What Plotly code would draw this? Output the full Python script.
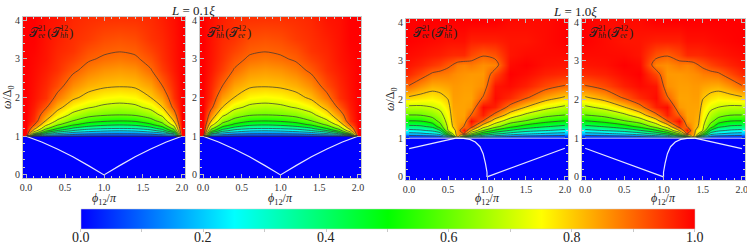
import plotly.graph_objects as go

# ------------------------------------------------------------------ data
# L = 0.1 xi : transmission grid (rows = omega, cols = phi)
phi_short = [0, 0.1, 0.25, 0.4, 0.6, 0.8, 1.0, 1.2, 1.4, 1.6, 1.75, 1.9, 2.0]
omega_short = [0, 0.999, 1.0, 1.04, 1.08, 1.14, 1.2, 1.3, 1.4, 1.55, 1.75, 2.0, 2.3,
               2.7, 3.0, 3.2, 3.5, 4.0]
T_ee21_short = [
    [0, 0, 0, 0, 0, 0, 0, 0, 0, 0, 0, 0, 0],
    [0, 0, 0, 0, 0, 0, 0, 0, 0, 0, 0, 0, 0],
    [1, 0, 0, 0, 0, 0, 0, 0, 0, 0, 0, 0, 1],
    [1, 0.418, 0.181, 0.125, 0.093, 0.077, 0.069, 0.067, 0.069, 0.083, 0.108, 0.191, 1],
    [1, 0.623, 0.356, 0.233, 0.164, 0.140, 0.129, 0.125, 0.129, 0.150, 0.191, 0.374, 1],
    [1, 0.759, 0.530, 0.389, 0.290, 0.235, 0.210, 0.200, 0.210, 0.258, 0.337, 0.548, 1],
    [1, 0.832, 0.627, 0.506, 0.387, 0.333, 0.309, 0.300, 0.309, 0.356, 0.443, 0.642, 1],
    [1, 0.909, 0.726, 0.618, 0.517, 0.455, 0.423, 0.410, 0.423, 0.485, 0.569, 0.740, 1],
    [1, 0.951, 0.800, 0.689, 0.602, 0.544, 0.517, 0.506, 0.517, 0.569, 0.642, 0.809, 1],
    [1, 0.962, 0.852, 0.764, 0.676, 0.629, 0.608, 0.600, 0.608, 0.649, 0.720, 0.864, 1],
    [1, 0.973, 0.911, 0.827, 0.750, 0.708, 0.682, 0.671, 0.682, 0.725, 0.800, 0.920, 1],
    [1, 0.982, 0.951, 0.882, 0.815, 0.776, 0.750, 0.740, 0.750, 0.800, 0.846, 0.953, 1],
    [1, 0.986, 0.961, 0.926, 0.861, 0.827, 0.811, 0.805, 0.811, 0.841, 0.900, 0.963, 1],
    [1, 0.990, 0.973, 0.954, 0.912, 0.877, 0.857, 0.849, 0.857, 0.896, 0.940, 0.977, 1],
    [1, 0.993, 0.980, 0.960, 0.937, 0.908, 0.892, 0.883, 0.892, 0.920, 0.953, 0.981, 1],
    [1, 0.996, 0.981, 0.964, 0.950, 0.922, 0.908, 0.902, 0.908, 0.935, 0.957, 0.982, 1],
    [1, 0.999, 0.983, 0.970, 0.955, 0.943, 0.926, 0.920, 0.926, 0.951, 0.962, 0.983, 1],
    [1, 1.000, 0.985, 0.980, 0.962, 0.955, 0.951, 0.950, 0.951, 0.958, 0.970, 0.986, 1],
]
# T_hh^21 is the mirror image in phi
T_hh21_short = [row[::-1] for row in T_ee21_short]

# L = 1.0 xi
phi_long = [0, 0.15, 0.3, 0.4, 0.5, 0.56, 0.62, 0.7, 0.8, 0.95, 1.1, 1.3, 1.5, 1.75, 2.0]
omega_long = [0, 0.999, 1.0, 1.03, 1.07, 1.12, 1.2, 1.3, 1.45, 1.6, 1.8, 2.05, 2.35,
              2.65, 2.9, 3.15, 3.5, 4.0]
T_ee21_long = [
    [0, 0, 0, 0, 0, 0, 0, 0, 0, 0, 0, 0, 0, 0, 0],
    [0, 0, 0, 0, 0, 0, 0, 0, 0, 0, 0, 0, 0, 0, 0],
    [0, 0, 0, 0, 0, 0, 0, 0, 0, 0, 0, 0, 0, 0, 0],
    [0.043, 0.046, 0.055, 0.067, 0.15, 0.30, 0.85, 0.42, 0.223, 0.13, 0.094, 0.07, 0.057, 0.048, 0.043],
    [0.100, 0.108, 0.127, 0.156, 0.35, 0.60, 0.85, 0.695, 0.437, 0.289, 0.214, 0.161, 0.133, 0.112, 0.100],
    [0.171, 0.185, 0.214, 0.260, 0.533, 0.71, 0.845, 0.905, 0.617, 0.428, 0.336, 0.267, 0.224, 0.192, 0.171],
    [0.275, 0.288, 0.320, 0.400, 0.704, 0.75, 0.84, 0.98, 0.80, 0.605, 0.487, 0.394, 0.337, 0.305, 0.275],
    [0.373, 0.382, 0.420, 0.557, 0.716, 0.80, 0.84, 0.90, 0.93, 0.738, 0.633, 0.524, 0.457, 0.405, 0.373],
    [0.500, 0.507, 0.558, 0.632, 0.734, 0.82, 0.84, 0.85, 0.99, 0.90, 0.758, 0.652, 0.598, 0.536, 0.500],
    [0.600, 0.604, 0.633, 0.673, 0.752, 0.83, 0.84, 0.84, 0.905, 0.97, 0.88, 0.757, 0.682, 0.630, 0.600],
    [0.683, 0.684, 0.700, 0.722, 0.776, 0.84, 0.84, 0.84, 0.85, 0.99, 0.97, 0.877, 0.797, 0.724, 0.683],
    [0.791, 0.775, 0.763, 0.778, 0.806, 0.845, 0.845, 0.84, 0.84, 0.905, 0.99, 0.96, 0.91, 0.837, 0.791],
    [0.897, 0.858, 0.830, 0.833, 0.841, 0.85, 0.85, 0.845, 0.845, 0.86, 0.98, 0.99, 0.97, 0.93, 0.897],
    [0.960, 0.928, 0.890, 0.882, 0.876, 0.865, 0.86, 0.855, 0.85, 0.85, 0.93, 1.0, 0.99, 0.97, 0.960],
    [0.980, 0.966, 0.948, 0.935, 0.912, 0.90, 0.88, 0.87, 0.88, 0.86, 0.87, 0.99, 1.0, 0.985, 0.980],
    [0.990, 0.984, 0.976, 0.972, 0.964, 0.96, 0.96, 0.96, 0.93, 0.905, 0.92, 0.98, 0.99, 0.99, 0.990],
    [1.000, 0.996, 0.992, 0.989, 0.985, 0.985, 0.985, 0.985, 0.97, 0.97, 0.97, 0.98, 0.98, 0.99, 1.000],
    [1.000, 1.000, 1.000, 1.000, 1.000, 1.000, 1.000, 1.000, 1.00, 1.00, 1.00, 0.99, 0.99, 0.99, 1.000],
]
phi_long_mirror = [round(2 - p, 3) for p in phi_long[::-1]]
T_hh21_long = [row[::-1] for row in T_ee21_long]

# white bound-state curves (sub-gap)
abs_short_phi = [0, 0.2, 0.4, 0.6, 0.8, 1.0, 1.2, 1.4, 1.6, 1.8, 2.0]
abs_short_omega = [1.0, 0.85, 0.67, 0.47, 0.24, 0.0, 0.24, 0.47, 0.67, 0.85, 1.0]
abs_long_a_phi = [0, 0.6]
abs_long_a_omega = [0.73, 1.0]
abs_long_b_phi = [1.0, 2.0]
abs_long_b_omega = [0.0, 0.74]
abs_long_c_phi = [0.6, 0.7, 0.78, 0.85, 0.91, 0.95, 0.98, 1.0, 1.0]
abs_long_c_omega = [1.0, 0.995, 0.97, 0.9, 0.78, 0.6, 0.35, 0.12, 0.0]

x_ticks = [0, 0.5, 1.0, 1.5, 2.0]
y_ticks = [0, 1, 2, 3, 4]
cbar_ticks = [0, 0.1, 0.2, 0.3, 0.4, 0.5, 0.6, 0.7, 0.8, 0.9, 1.0]
cbar_labels = ['0.0', '0.2', '0.4', '0.6', '0.8', '1.0']
cbar_label_vals = [0.0, 0.2, 0.4, 0.6, 0.8, 1.0]

# ------------------------------------------------------------------ figure
W, H = 747, 243
SERIF = 'Liberation Serif'
colorscale = [[0, '#0000ff'], [0.25, '#00ffff'], [0.5, '#00ff00'], [0.75, '#ffff00'], [1, '#ff0000']]
CB_X0, CB_X1 = 80.5, 694.5

fig = go.Figure()

panels = [
    (phi_short, omega_short, T_ee21_short),
    (phi_short, omega_short, T_hh21_short),
    (phi_long, omega_long, T_ee21_long),
    (phi_long_mirror, omega_long, T_hh21_long),
]
for k, (px, py, pz) in enumerate(panels, start=1):
    hm = go.Heatmap(
        x=px, y=py, z=pz, xaxis=f'x{k}', yaxis=f'y{k}', zsmooth='best',
        colorscale=colorscale, zmin=0, zmax=1, showscale=(k == 1), hoverinfo='skip',
    )
    if k == 1:
        hm.colorbar = dict(
            orientation='h', x=(CB_X0 + CB_X1) / 2 / W, xanchor='center',
            y=1 - 209 / H, yanchor='top',
            len=(CB_X1 - CB_X0) / W, lenmode='fraction', thickness=20, thicknessmode='pixels',
            xpad=0, ypad=0, outlinewidth=0.5, outlinecolor='#cccccc',
            tickvals=cbar_ticks, ticks='outside', ticklen=3, tickcolor='#c8c8c8',
            showticklabels=False,
        )
    fig.add_trace(hm)
    fig.add_trace(go.Contour(
        x=px, y=py, z=pz, xaxis=f'x{k}', yaxis=f'y{k}', showscale=False,
        contours=dict(coloring='none', start=0.1, end=0.9, size=0.1),
        line=dict(color='rgba(55,55,55,0.72)', width=1, smoothing=0.8),
        hoverinfo='skip',
    ))

def line(k, xs, ys, color, width=1.2):
    fig.add_trace(go.Scatter(x=xs, y=ys, xaxis=f'x{k}', yaxis=f'y{k}', mode='lines',
                             line=dict(color=color, width=width), hoverinfo='skip'))

for k in (1, 2):
    line(k, abs_short_phi, abs_short_omega, 'rgba(255,255,255,0.9)')
    line(k, [0, 2], [1, 1], 'rgba(50,50,50,0.8)', 1)
line(3, [0, 2], [1, 1], 'rgba(225,225,240,0.9)', 1)
line(4, [0, 2], [1, 1], 'rgba(225,225,240,0.9)', 1)
line(3, abs_long_a_phi, abs_long_a_omega, 'rgba(255,255,255,0.9)')
line(3, abs_long_b_phi, abs_long_b_omega, 'rgba(255,255,255,0.9)')
line(3, abs_long_c_phi, abs_long_c_omega, 'rgba(255,255,255,0.9)')
line(4, [2 - p for p in abs_long_a_phi], abs_long_a_omega, 'rgba(255,255,255,0.9)')
line(4, [2 - p for p in abs_long_b_phi], abs_long_b_omega, 'rgba(255,255,255,0.9)')
line(4, [2 - p for p in abs_long_c_phi], abs_long_c_omega, 'rgba(255,255,255,0.9)')

# axes geometry (pixel frames)
xdom = [(23, 185), (200, 361), (406, 568), (582, 745)]
ydom = [(17, 178), (17, 178), (19, 180), (19, 180)]
axis_common = dict(showgrid=False, zeroline=False, showline=True, mirror='allticks',
                   linecolor='#c8c8c8', linewidth=1, ticks='inside', ticklen=4,
                   tickcolor='#bdbdbd', tickfont=dict(family=SERIF, size=10, color='#333'))
layout = {}
for k in range(1, 5):
    x0, x1 = xdom[k - 1]
    yt, yb = ydom[k - 1]
    layout[f'xaxis{k}'] = dict(axis_common, domain=[x0 / W, x1 / W], anchor=f'y{k}',
                               range=[-0.04, 2.04], tickvals=x_ticks, tickformat='.1f',
                               ticklabeloverflow='allow',
                               minor=dict(ticks='inside', ticklen=2, dtick=0.1, tickcolor='#d0d0d0'))
    layout[f'yaxis{k}'] = dict(axis_common, domain=[1 - yb / H, 1 - yt / H], anchor=f'x{k}',
                               range=[-0.08, 4.08], tickvals=y_ticks,
                               minor=dict(ticks='inside', ticklen=2, dtick=0.2, tickcolor='#d0d0d0'))

ann = []
def text(x, y, s, size=12, xanchor='center', **kw):
    ann.append(dict(x=x / W, y=1 - y / H, xref='paper', yref='paper', text=s, showarrow=False,
                    xanchor=xanchor, yanchor='middle',
                    font=dict(family=SERIF, size=size, color='#222'), **kw))

text(192.5, 10, '<i>L</i> = 0.1<i>ξ</i>', 13)
text(575, 11, '<i>L</i> = 1.0<i>ξ</i>', 13)
for cx in (104, 280.5, 487, 663.5):
    text(cx, 199, '<i>ϕ</i><sub>12</sub>/<i>π</i>', 12)
text(8, 97, '<i>ω</i>/Δ<sub>0</sub>', 12, textangle=-90)
text(391, 99, '<i>ω</i>/Δ<sub>0</sub>', 12, textangle=-90)

# panel labels  T^{a}_{b}(T^{c}_{d}) with stacked super/subscripts
def panel_label(x0, yc, sup1, sub1, sup2, sub2):
    text(x0, yc, '𝒯', 13, xanchor='left')
    text(x0 + 9, yc - 3.5, sup1, 8, xanchor='left')
    text(x0 + 9, yc + 3.5, f'<i>{sub1}</i>', 8, xanchor='left')
    text(x0 + 18, yc, '(', 13, xanchor='left')
    text(x0 + 22, yc, '𝒯', 13, xanchor='left')
    text(x0 + 31, yc - 3.5, sup2, 8, xanchor='left')
    text(x0 + 31, yc + 3.5, f'<i>{sub2}</i>', 8, xanchor='left')
    text(x0 + 40, yc, ')', 13, xanchor='left')

panel_label(27, 32, '21', 'ee', '12', 'hh')
panel_label(205, 32, '21', 'hh', '12', 'ee')
panel_label(411, 32, '21', 'ee', '12', 'hh')
panel_label(587, 32, '21', 'hh', '12', 'ee')

for v, s in zip(cbar_label_vals, cbar_labels):
    text(CB_X0 + v * (CB_X1 - CB_X0), 237, s, 14)

fig.update_layout(width=W, height=H, margin=dict(l=0, r=0, t=0, b=0, autoexpand=False),
                  paper_bgcolor='white', plot_bgcolor='white', showlegend=False,
                  annotations=ann, **layout)
fig.write_html('out.html', config={'displayModeBar': False, 'staticPlot': True})

# remove the browser's default page margin so the figure sits at the window's origin
with open('out.html', encoding='utf-8') as f:
    html = f.read()
html = html.replace('<head>', '<head><style>html,body{margin:0;padding:0;overflow:hidden;}</style>', 1)
with open('out.html', 'w', encoding='utf-8') as f:
    f.write(html)
